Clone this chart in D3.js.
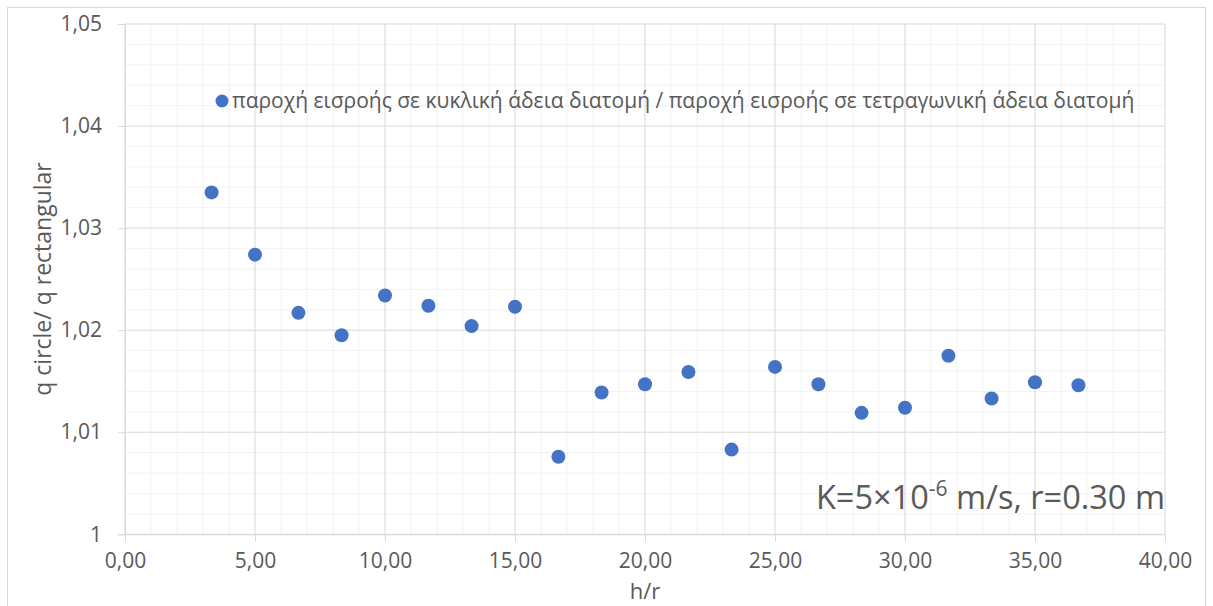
<!DOCTYPE html>
<html><head><meta charset="utf-8">
<script src="https://cdn.jsdelivr.net/npm/d3@7"></script>
<style>body{margin:0;background:#fff;} svg{display:block;font-family:"Open Sans","Noto Sans",sans-serif;}</style>
</head><body><svg id="c" width="1213" height="606"></svg>
<script>
const hr = [3.33,5.00,6.67,8.33,10.00,11.67,13.33,15.00,16.67,18.33,20.00,21.67,23.33,25.00,26.67,28.33,30.00,31.67,33.33,35.00,36.67];
const ratio = [1.0335,1.0274,1.0217,1.0195,1.0234,1.0224,1.0204,1.0223,1.0076,1.0139,1.0147,1.0159,1.0083,1.0164,1.0147,1.0119,1.0124,1.0175,1.0133,1.0149,1.0146];
const xTicks = [0,5,10,15,20,25,30,35,40];
const yTicks = [1,1.01,1.02,1.03,1.04,1.05];
const legendLabel = "παροχή εισροής σε κυκλική άδεια διατομή / παροχή εισροής σε τετραγωνική άδεια διατομή";
const xTitle = "h/r", yTitle = "q circle/ q rectangular";

const svg = d3.select("#c");
const L=125,R=1165,T=24,B=534.3;
const x = d3.scaleLinear().domain([0,40]).range([L,R]);
const y = d3.scaleLinear().domain([1,1.05]).range([B,T]);

svg.append("rect").attr("x",7.5).attr("y",7.5).attr("width",1198).attr("height",610).attr("fill","#fff").attr("stroke","#d9d9d9");

const g = svg.append("g");
g.selectAll(".mx").data(d3.range(0,41,1).filter(v=>v%5)).join("line")
 .attr("x1",d=>x(d)).attr("x2",d=>x(d)).attr("y1",T).attr("y2",B).attr("stroke","#f2f2f2");
g.selectAll(".my").data(d3.range(0,26).map(i=>1+i*0.002).filter((v,i)=>i%5)).join("line")
 .attr("y1",d=>y(d)).attr("y2",d=>y(d)).attr("x1",L).attr("x2",R).attr("stroke","#f2f2f2");
g.selectAll(".Mx").data(xTicks).join("line")
 .attr("x1",d=>x(d)).attr("x2",d=>x(d)).attr("y1",T).attr("y2",B).attr("stroke","#d9d9d9");
g.selectAll(".My").data(yTicks).join("line")
 .attr("y1",d=>y(d)).attr("y2",d=>y(d)).attr("x1",L).attr("x2",R).attr("stroke","#d9d9d9");

const fmt = d3.format(".2f");
const xa = svg.append("g").attr("transform",`translate(0,${B})`)
 .call(d3.axisBottom(x).tickValues(xTicks).tickSize(7).tickPadding(12).tickFormat(d=>fmt(d).replace(".",",")));
const ya = svg.append("g").attr("transform",`translate(${L},0)`)
 .call(d3.axisLeft(y).tickValues(yTicks).tickSize(7).tickPadding(16).tickFormat(d=>d===1?"1":d3.format(".2f")(d).replace(".",",")));
[xa,ya].forEach(a=>{a.select(".domain").attr("stroke","#d9d9d9");a.selectAll(".tick line").attr("stroke","#d9d9d9");
 a.selectAll("text").attr("fill","#595959").style("font-size","21px").style("font-family",'"Open Sans","Noto Sans",sans-serif');});

svg.append("g").selectAll("circle").data(hr.map((h,i)=>[h,ratio[i]])).join("circle")
 .attr("cx",d=>x(d[0])).attr("cy",d=>y(d[1])).attr("r",7).attr("fill","#4472c4");

svg.append("circle").attr("cx",222).attr("cy",101).attr("r",6.5).attr("fill","#4472c4");
svg.append("text").attr("x",232).attr("y",108).attr("fill","#595959").style("font-size","21px").text(legendLabel);

svg.append("text").attr("x",645).attr("y",599).attr("text-anchor","middle").attr("fill","#595959").style("font-size","22px").text(xTitle);
svg.append("text").attr("transform","translate(51,279) rotate(-90)").attr("text-anchor","middle").attr("fill","#595959").style("font-size","23px").text(yTitle);

const ann = svg.append("text").attr("x",1165).attr("y",509).attr("text-anchor","end").attr("fill","#595959").style("font-size","32.5px");
ann.append("tspan").text("K=5×10");
ann.append("tspan").attr("dy",-13).style("font-size","21px").text("-6");
ann.append("tspan").attr("dy",13).text(" m/s, r=0.30 m");
</script></body></html>
